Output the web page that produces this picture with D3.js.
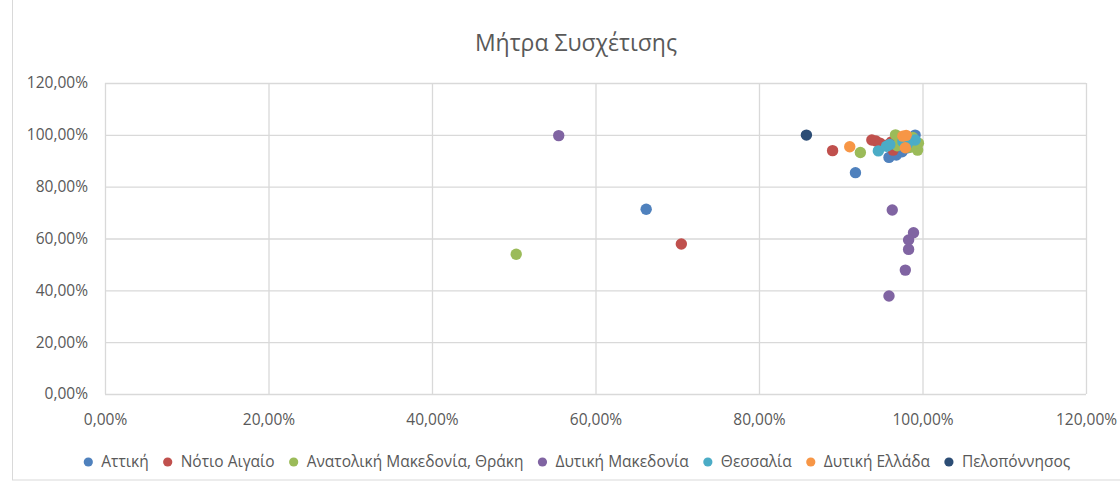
<!DOCTYPE html>
<html><head><meta charset="utf-8">
<script src="https://cdn.jsdelivr.net/npm/d3@7"></script>
<style>
html,body{margin:0;padding:0;background:#fff;}
svg{display:block;font-family:"Open Sans","Noto Sans",sans-serif;}
</style></head>
<body><svg id="c" width="1120" height="482"></svg>
<script>
const title = "Μήτρα Συσχέτισης";
const seriesNames = ["Αττική","Νότιο Αιγαίο","Ανατολική Μακεδονία, Θράκη","Δυτική Μακεδονία","Θεσσαλία","Δυτική Ελλάδα","Πελοπόννησος"];
const seriesColors = ["#4F81BD","#C0504D","#9BBB59","#8064A2","#4BACC6","#F79646","#2C4D75"];
const xTicks = [0,0.2,0.4,0.6,0.8,1.0,1.2];
const yTicks = [0,0.2,0.4,0.6,0.8,1.0,1.2];

// values as [x, y] fractions
const attiki = [[0.662,0.713],[0.918,0.854],[0.959,0.913],[0.968,0.922],[0.975,0.935],[0.982,0.950],[0.991,0.999],[0.986,0.988],[0.970,0.965]];
const notioAigaio = [[0.705,0.579],[0.890,0.939],[0.938,0.980],[0.943,0.976],[0.948,0.968],[0.962,0.973],[0.964,0.941],[0.956,0.960]];
const anMakThraki = [[0.503,0.539],[0.924,0.932],[0.967,1.000],[0.972,0.975],[0.980,0.960],[0.985,0.952],[0.994,0.941],[0.990,0.965],[0.976,0.986],[0.969,0.958],[0.988,0.990],[0.995,0.968]];
const dytMakedonia = [[0.555,0.997],[0.963,0.710],[0.989,0.622],[0.983,0.594],[0.983,0.558],[0.979,0.478],[0.959,0.378]];
const thessalia = [[0.946,0.938],[0.956,0.956],[0.960,0.963],[0.991,0.980],[0.976,0.974],[0.982,0.968]];
const dytEllada = [[0.911,0.954],[0.976,0.995],[0.979,0.950],[0.980,0.998]];
const peloponnisos = [[0.858,0.999]];
const seriesValues = [attiki, notioAigaio, anMakThraki, dytMakedonia, thessalia, dytEllada, peloponnisos];

const svg = d3.select("#c");
const W = 1120, H = 482;
const plot = {l:105, r:1086, t:83, b:394};
const x = d3.scaleLinear().domain([0,1.2]).range([plot.l, plot.r]);
const y = d3.scaleLinear().domain([0,1.2]).range([plot.b, plot.t]);
const loc = d3.formatLocale({decimal:",", thousands:".", grouping:[3], currency:["","€"]});
const fmt = loc.format(".2%");
const textColor = "#595959", gridColor = "#D9D9D9";

// chart border
svg.append("rect").attr("x",12.5).attr("y",-2).attr("width",W+10).attr("height",482)
  .attr("fill","none").attr("stroke",gridColor);

// title
svg.append("text").attr("x",576).attr("y",51).attr("text-anchor","middle")
  .attr("font-size",23).attr("fill",textColor).text(title);

// gridlines
const gx = svg.append("g").attr("transform",`translate(0,${plot.b})`)
  .call(d3.axisBottom(x).tickValues(xTicks).tickSize(-(plot.b-plot.t)).tickFormat(fmt).tickPadding(20));
const gy = svg.append("g").attr("transform",`translate(${plot.l},0)`)
  .call(d3.axisLeft(y).tickValues(yTicks).tickSize(-(plot.r-plot.l)).tickFormat(fmt).tickPadding(17));
[gx,gy].forEach(g=>{
  g.select(".domain").remove();
  g.selectAll(".tick line").attr("stroke",gridColor).attr("stroke-width",1.3);
  g.selectAll(".tick text").attr("fill",textColor).attr("font-size",15.5)
   .attr("font-family",'"Open Sans","Noto Sans",sans-serif');
});

// points
seriesValues.forEach((vals,i)=>{
  svg.append("g").selectAll("circle").data(vals).join("circle")
    .attr("cx",d=>x(d[0])).attr("cy",d=>y(d[1])).attr("r",5.7)
    .attr("fill",seriesColors[i]);
});

// legend
const lg = svg.append("g");
const items = seriesNames.map((n,i)=>{
  const g = lg.append("g");
  g.append("circle").attr("r",4.6).attr("fill",seriesColors[i]);
  const t = g.append("text").attr("x",13).attr("dy","0.35em").attr("font-size",15.5)
    .attr("fill",textColor).text(n);
  return {g, w: t.node().getComputedTextLength()};
});
let total = 0;
items.forEach((it,i)=>{ total += 13 + it.w + (i<items.length-1?19:0); });
let cx = 577 - (total+4.5)/2 + 4.5;
items.forEach(it=>{ it.g.attr("transform",`translate(${cx},462)`); cx += 13 + it.w + 19; });
</script></body></html>
